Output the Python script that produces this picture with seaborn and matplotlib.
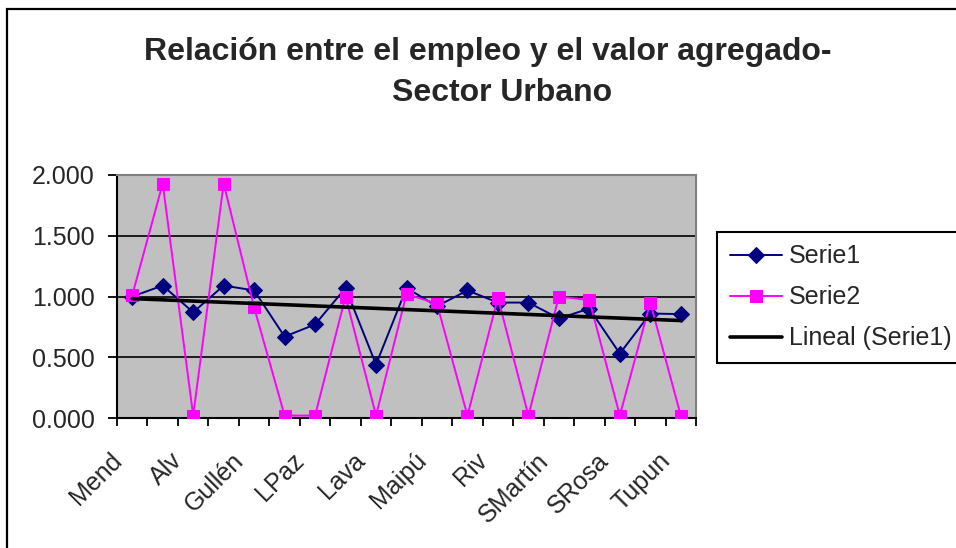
import numpy as np
import pandas as pd
import matplotlib
matplotlib.use("Agg")
import matplotlib.pyplot as plt
import matplotlib.transforms as mtransforms
import seaborn as sns
from matplotlib.patches import Rectangle

categories = ["Mend", "Cap", "Alv", "GCruz", "Gullén", "Junín", "LPaz", "LHer", "Lava",
              "Luján", "Maipú", "Malarg", "Riv", "SCarl", "SMartín", "SRaf", "SRosa",
              "Tunuy", "Tupun"]
serie1 = [1.00, 1.09, 0.87, 1.09, 1.05, 0.67, 0.77, 1.07, 0.44, 1.07, 0.92, 1.05,
          0.95, 0.95, 0.82, 0.90, 0.53, 0.86, 0.855]
serie2 = [1.01, 1.93, 0.02, 1.93, 0.91, 0.02, 0.02, 1.00, 0.02, 1.02, 0.94, 0.02,
          0.99, 0.02, 1.00, 0.97, 0.02, 0.95, 0.02]
yticks = [0.0, 0.5, 1.0, 1.5, 2.0]
ytick_labels = ["0.000", "0.500", "1.000", "1.500", "2.000"]
title_line1 = "Relación entre el empleo y el valor agregado-"
title_line2 = "Sector Urbano"
legend_labels = ["Serie1", "Serie2", "Lineal (Serie1)"]

sns.set_theme(style="white")
plt.rcParams["font.family"] = ["Liberation Sans", "DejaVu Sans"]

pos = np.arange(len(categories))
df = pd.DataFrame({"pos": pos, "Serie1": serie1, "Serie2": serie2})
coef = np.polyfit(df["pos"], df["Serie1"], 1)
df["trend"] = np.polyval(coef, df["pos"])

W, H = 956, 548
fig = plt.figure(figsize=(W / 100, H / 100), dpi=100)
fig.patch.set_facecolor("white")
ax = fig.add_axes([117 / W, 1 - 418 / H, (696 - 117) / W, (418 - 175) / H])
ax.set_facecolor("#C0C0C0")

for y in yticks[1:]:
    ax.axhline(y, color="black", lw=1.2, zorder=1)

sns.lineplot(data=df, x="pos", y="Serie1", ax=ax, color="#000080", lw=1.4,
             marker="D", markersize=8.5, markeredgecolor="#000080",
             label=legend_labels[0], zorder=3)
sns.lineplot(data=df, x="pos", y="Serie2", ax=ax, color="#FF00FF", lw=1.4,
             marker="s", markersize=8.5, markeredgecolor="#FF00FF",
             label=legend_labels[1], zorder=4)
sns.lineplot(data=df, x="pos", y="trend", ax=ax, color="black", lw=2.6,
             label=legend_labels[2], zorder=5)

ax.set_xlim(-0.5, len(categories) - 0.5)
ax.set_ylim(0, 2.0)
ax.set_xlabel("")
ax.set_ylabel("")

ax.set_yticks(yticks)
ax.set_yticklabels(ytick_labels, fontsize=18)
ax.tick_params(axis="y", direction="out", length=6.5, width=1.3, color="black",
               left=True, pad=9.5)

ax.set_xticks(np.arange(-0.5, len(categories), 1.0))
ax.set_xticklabels([])
ax.tick_params(axis="x", which="major", direction="out", length=6, width=1.3,
               color="black", bottom=True)
ax.set_xticks(pos[::2], minor=True)
ax.set_xticklabels(categories[::2], minor=True, fontsize=18, rotation=45,
                   ha="right", rotation_mode="anchor")
ax.tick_params(axis="x", which="minor", length=0, pad=14)
shift = mtransforms.ScaledTranslation(-0.23, -0.11, fig.dpi_scale_trans)
for lab in ax.get_xticklabels(minor=True):
    lab.set_transform(lab.get_transform() + shift)

for s in ["left", "bottom"]:
    ax.spines[s].set_color("black")
    ax.spines[s].set_linewidth(1.5)
for s in ["top", "right"]:
    ax.spines[s].set_color("#808080")
    ax.spines[s].set_linewidth(1.5)

leg = ax.legend(loc="upper left", bbox_to_anchor=(717 / W, 1 - 232 / H),
                bbox_transform=fig.transFigure, fontsize=18, frameon=True,
                fancybox=False, edgecolor="black", framealpha=1,
                handlelength=2.1, handletextpad=0.28, labelspacing=0.68,
                borderpad=0.5, borderaxespad=0, numpoints=1)
leg.get_frame().set_linewidth(1.5)

fig.text(488 / W, 1 - 52 / H, title_line1, ha="center", va="center",
         fontsize=23, fontweight="bold")
fig.text(502 / W, 1 - 93 / H, title_line2, ha="center", va="center",
         fontsize=23, fontweight="bold")

fig.patches.append(Rectangle((7 / W, -0.1), 2, 1 - 9 / H + 0.1,
                             transform=fig.transFigure, fill=False,
                             edgecolor="black", lw=1.6, zorder=0))

fig.savefig("out.png", dpi=100)
